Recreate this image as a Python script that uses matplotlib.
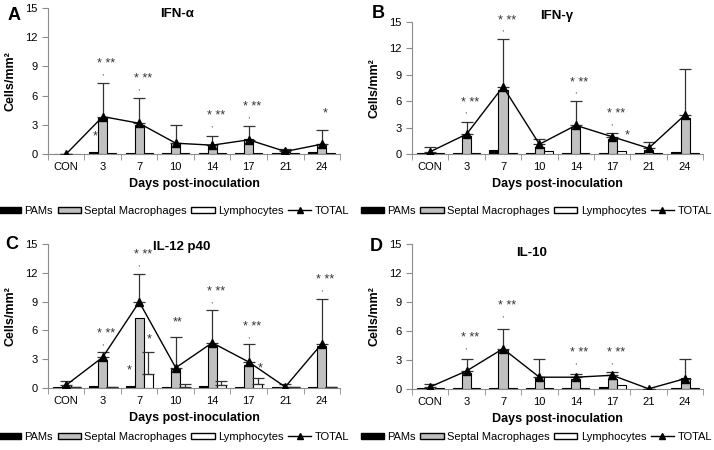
import matplotlib
matplotlib.use('Agg')
import matplotlib.pyplot as plt
from matplotlib.patches import Patch
from matplotlib.lines import Line2D
import numpy as np

plt.rcParams['font.family'] = ['Liberation Sans', 'DejaVu Sans']

days = ['CON', '3', '7', '10', '14', '17', '21', '24']

# A - IFN-alpha
pams_a = [0, 0.24, 0.1, 0.05, 0.05, 0.05, 0.05, 0.2]
septal_a = [0, 3.66, 2.98, 1.1, 0.95, 1.5, 0.2, 1.0]
lymph_a = [0, 0.05, 0.1, 0.05, 0.05, 0.05, 0.05, 0.05]
total_a = [0, 3.84, 3.15, 1.1, 0.9, 1.45, 0.25, 1.0]
sd_a = [0, 3.5, 2.65, 1.85, 0.95, 1.4, 0.3, 1.5]

# B - IFN-gamma
pams_b = [0.15, 0.1, 0.4, 0.05, 0.05, 0.15, 0.1, 0.2]
septal_b = [0.1, 2.0, 7.3, 0.8, 3.1, 1.7, 0.5, 4.1]
lymph_b = [0.05, 0.1, 0.05, 0.3, 0.05, 0.3, 0.1, 0.1]
total_b = [0.25, 2.25, 7.65, 1.1, 3.25, 1.95, 0.65, 4.45]
sd_b = [0.5, 1.4, 5.45, 0.65, 2.75, 0.45, 0.65, 5.2]

# C - IL-12 p40
pams_c = [0.05, 0.15, 0.2, 0.05, 0.15, 0.05, 0.05, 0.1]
septal_c = [0.3, 2.95, 7.25, 2.0, 4.35, 2.35, 0.1, 4.35]
lymph_c = [0.05, 0.1, 1.45, 0.1, 0.35, 0.45, 0.05, 0.1]
lymph_sd_c = [0, 0, 2.25, 0.3, 0.4, 0.55, 0, 0]
total_c = [0.3, 3.2, 8.95, 2.1, 4.7, 2.7, 0.1, 4.6]
sd_c = [0.45, 0.55, 2.95, 3.2, 3.45, 1.9, 0.35, 4.7]

# D - IL-10
pams_d = [0.05, 0.05, 0.05, 0.05, 0.05, 0.15, 0, 0.05]
septal_d = [0.15, 1.65, 4.0, 1.2, 1.05, 1.05, 0, 1.1]
lymph_d = [0.05, 0.05, 0.1, 0.05, 0.1, 0.4, 0, 0.05]
total_d = [0.2, 1.85, 4.15, 1.2, 1.2, 1.4, 0, 1.05]
sd_d = [0.3, 1.25, 2.05, 1.9, 0.3, 0.3, 0, 2.05]

# significance marks: (day index, height, text, x shift)
marks_a = [(1, 9.25, '* **', 0.1), (2, 7.7, '* **', 0.1), (4, 3.9, '* **', 0.1),
           (5, 4.8, '* **', 0.1), (7, 4.2, '*', 0.1), (1, 1.8, '*', -0.2)]
marks_b = [(1, 5.8, '* **', 0.1), (2, 15.1, '* **', 0.1), (4, 8.1, '* **', 0.1),
           (5, 4.5, '* **', 0.1), (5, 2.15, '*', 0.4)]
marks_c = [(1, 5.6, '* **', 0.1), (2, 13.8, '* **', 0.1), (3, 6.8, '**', 0.05),
           (4, 10.0, '* **', 0.1), (5, 6.35, '* **', 0.1), (7, 11.2, '* **', 0.1),
           (2, 1.8, '*', -0.28), (2, 5.1, '*', 0.28), (5, 2.0, '*', 0.3)]
marks_d = [(1, 5.3, '* **', 0.1), (2, 8.6, '* **', 0.1), (4, 3.75, '* **', 0.1),
           (5, 3.75, '* **', 0.1)]

fig = plt.figure(figsize=(7.14, 4.5), dpi=100)

panels = [
    ('A', 'IFN-α', [0.0672, 0.658, 0.409, 0.324], pams_a, septal_a, lymph_a, None, total_a, sd_a, marks_a),
    ('B', 'IFN-γ', [0.577, 0.658, 0.408, 0.293], pams_b, septal_b, lymph_b, None, total_b, sd_b, marks_b),
    ('C', 'IL-12 p40', [0.0672, 0.138, 0.409, 0.32], pams_c, septal_c, lymph_c, lymph_sd_c, total_c, sd_c, marks_c),
    ('D', 'IL-10', [0.577, 0.136, 0.408, 0.322], pams_d, septal_d, lymph_d, None, total_d, sd_d, marks_d),
]
letter_pos = {'A': (0.01, 0.985), 'B': (0.521, 0.99), 'C': (0.007, 0.475), 'D': (0.518, 0.472)}
title_pos = {'A': (0.248, 0.982), 'B': (0.779, 0.978), 'C': (0.254, 0.465), 'D': (0.745, 0.451)}
legend_pos = {'A': (0.243, 0.531), 'B': (0.751, 0.531), 'C': (0.243, 0.029), 'D': (0.751, 0.029)}

x = np.arange(len(days))
w = 0.25
grey = '#c0c0c0'
axis_col = '#8c8c8c'

for letter, title, rect, pams, septal, lymph, lymph_sd, total, sd, marks in panels:
    ax = fig.add_axes(rect)
    ax.bar(x - w, pams, w, color='black', edgecolor='black', linewidth=0.8, zorder=2)
    ax.bar(x, septal, w, color=grey, edgecolor='black', linewidth=0.8, zorder=2)
    ax.bar(x + w, lymph, w, color='white', edgecolor='black', linewidth=0.8, zorder=2)
    if lymph_sd is not None:
        ax.errorbar(x + w, lymph, yerr=[np.zeros(len(x)), lymph_sd], fmt='none',
                    ecolor='#333333', elinewidth=0.9, capsize=4, capthick=0.9, zorder=3)
    ax.errorbar(x, total, yerr=[np.zeros(len(x)), sd], fmt='none',
                ecolor='#333333', elinewidth=0.9, capsize=4, capthick=0.9, zorder=3)
    ax.plot(x, total, color='black', linewidth=1, marker='^', markersize=6, zorder=4)

    for i, h, txt, dx in marks:
        ax.text(i + dx, h, txt, ha='center', va='center', fontsize=9, color='#333333')
        if txt == '* **':
            ax.text(i - 0.02, h - 1.0, ',', ha='center', va='center', fontsize=6, color='#333333')

    ax.set_xlim(-0.5, 7.5)
    ax.set_ylim(0, 15)
    ax.set_yticks(np.arange(0, 16, 3))
    ax.set_xticks(x)
    ax.set_xticklabels(days)
    ax.set_xticks(np.arange(-0.5, 8, 1), minor=True)
    ax.tick_params(axis='x', which='major', length=0, labelsize=8, pad=6)
    ax.tick_params(axis='x', which='minor', length=4, color=axis_col, direction='out')
    ax.tick_params(axis='y', length=4, color=axis_col, labelsize=8)
    for s in ['top', 'right']:
        ax.spines[s].set_visible(False)
    for s in ['left', 'bottom']:
        ax.spines[s].set_color(axis_col)
        ax.spines[s].set_linewidth(0.8)
    ax.set_ylabel('Cells/mm²', fontsize=9, fontweight='bold', labelpad=6)
    ax.set_xlabel('Days post-inoculation', fontsize=9, fontweight='bold', labelpad=4)

    fig.text(letter_pos[letter][0], letter_pos[letter][1], letter, fontsize=13,
             fontweight='bold', ha='left', va='top')
    fig.text(title_pos[letter][0], title_pos[letter][1], title, fontsize=9.5,
             fontweight='bold', ha='center', va='top')

    handles = [Patch(facecolor='black', edgecolor='black'),
               Patch(facecolor=grey, edgecolor='black'),
               Patch(facecolor='white', edgecolor='black'),
               Line2D([], [], color='black', marker='^', markersize=5, linewidth=1)]
    ax.legend(handles, ['PAMs', 'Septal Macrophages', 'Lymphocytes', 'TOTAL'],
              loc='center', bbox_to_anchor=legend_pos[letter], bbox_transform=fig.transFigure,
              ncol=4, frameon=False, fontsize=8, handlelength=2.1, handleheight=0.5,
              handletextpad=0.3, columnspacing=0.4, borderpad=0, borderaxespad=0)

fig.savefig('out.png', dpi=100)
